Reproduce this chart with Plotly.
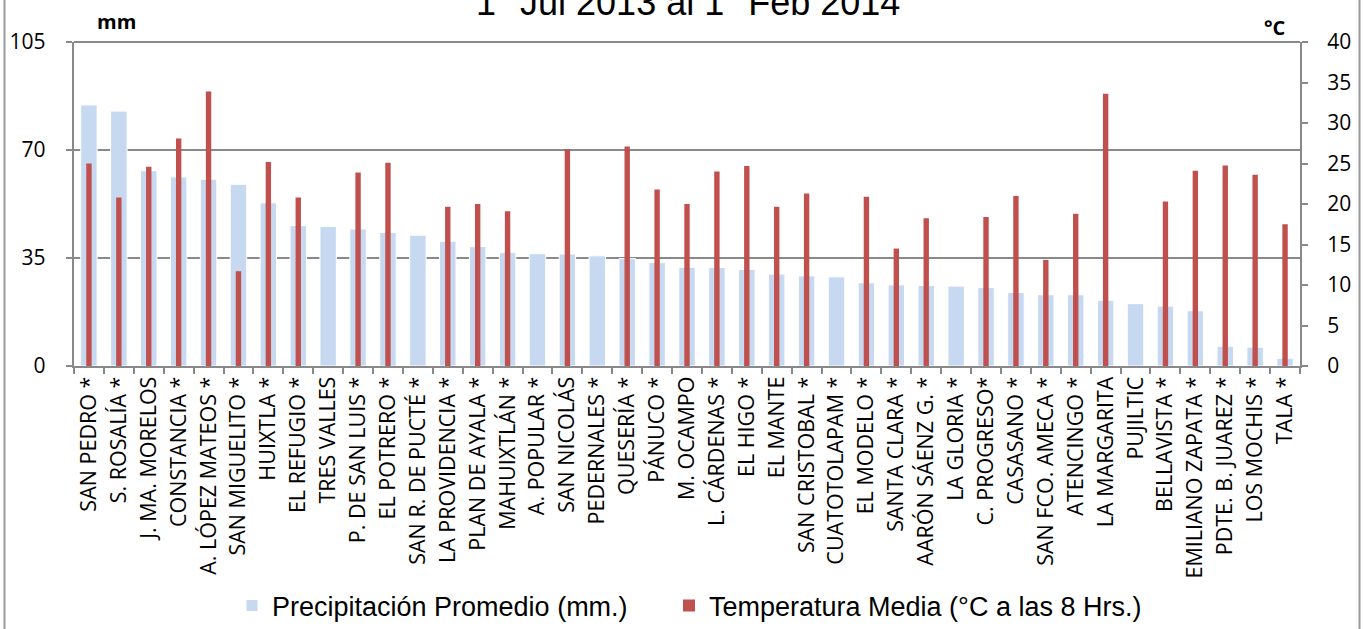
import plotly.graph_objects as go

categories = ["SAN PEDRO *", "S. ROSALÍA *", "J. MA. MORELOS", "CONSTANCIA *", "A. LÓPEZ MATEOS *",
              "SAN MIGUELITO *", "HUIXTLA *", "EL REFUGIO *", "TRES VALLES", "P. DE SAN LUIS *",
              "EL POTRERO *", "SAN R. DE PUCTÉ *", "LA PROVIDENCIA *", "PLAN DE AYALA *", "MAHUIXTLÁN *",
              "A. POPULAR *", "SAN NICOLÁS", "PEDERNALES *", "QUESERÍA *", "PÁNUCO *",
              "M. OCAMPO", "L. CÁRDENAS *", "EL HIGO *", "EL MANTE", "SAN CRISTOBAL *",
              "CUATOTOLAPAM *", "EL MODELO *", "SANTA CLARA *", "AARÓN SÁENZ G. *", "LA GLORIA *",
              "C. PROGRESO*", "CASASANO *", "SAN FCO. AMECA *", "ATENCINGO *", "LA MARGARITA",
              "PUJILTIC", "BELLAVISTA *", "EMILIANO ZAPATA *", "PDTE. B. JUAREZ *", "LOS MOCHIS *",
              "TALA *"]

precipitacion = [84.6, 82.6, 63.3, 61.3, 60.5, 58.9, 52.9, 45.5, 45.2, 44.4,
                 43.3, 42.4, 40.4, 38.7, 36.8, 36.4, 36.3, 35.7, 34.8, 33.5,
                 32.0, 31.9, 31.3, 29.8, 29.2, 28.9, 27.0, 26.3, 26.1, 25.9,
                 25.4, 23.8, 23.1, 23.1, 21.3, 20.2, 19.4, 17.9, 6.4, 6.1,
                 2.5]

temperatura = [25.0, 20.8, 24.6, 28.1, 33.9, 11.7, 25.2, 20.8, None, 23.9,
               25.1, None, 19.65, 20.0, 19.1, None, 26.75, None, 27.1, 21.8,
               20.0, 24.0, 24.7, 19.65, 21.3, None, 20.9, 14.5, 18.25, None,
               18.4, 21.0, 13.1, 18.8, 33.6, None, 20.3, 24.1, 24.75, 23.6,
               17.5]

left_ticks = [0, 35, 70, 105]
right_ticks = [0, 5, 10, 15, 20, 25, 30, 35, 40]

title_text = "1<sup>o</sup> Jul 2013 al 1<sup>o</sup> Feb 2014"
name_precip = "Precipitación Promedio (mm.)"
name_temp = "Temperatura Media (°C a las 8 Hrs.)"

W, H = 1364, 629
L, R, T, B = 74, 64, 42, 263
PW, PH = W - L - R, H - T - B

def px_x(x):
    return (x - L) / PW

def px_y(y):
    return (H - B - y) / PH

GRAY = "#898989"
BLUE = "#C6D9F1"
RED = "#C0504D"
NB = "\u00a0"

fig = go.Figure()
fig.add_trace(go.Bar(
    x=categories, y=precipitacion, name=name_precip,
    marker=dict(color=BLUE, line=dict(color="white", width=1)),
    width=0.55, offset=-0.275, yaxis="y", legend="legend",
))
fig.add_trace(go.Bar(
    x=categories, y=temperatura, name=name_temp,
    marker=dict(color=RED, line=dict(color=RED, width=0)),
    width=0.18, offset=-0.09, yaxis="y2", legend="legend2",
))

tick_font = dict(family="Open Sans", size=21.5, color="black")
legend_font = dict(family="Liberation Sans", size=27, color="black")

fig.update_layout(
    width=W, height=H,
    margin=dict(l=L, r=R, t=T, b=B, pad=0, autoexpand=False),
    paper_bgcolor="white", plot_bgcolor="white",
    barmode="overlay",
    showlegend=True,
    legend=dict(orientation="h", x=px_x(232), xanchor="left", y=px_y(606), yanchor="middle",
                font=legend_font, itemwidth=30, bgcolor="rgba(0,0,0,0)"),
    legend2=dict(orientation="h", x=px_x(669), xanchor="left", y=px_y(606), yanchor="middle",
                 font=legend_font, itemwidth=30, bgcolor="rgba(0,0,0,0)"),
    xaxis=dict(
        type="category", range=[-0.5, len(categories) - 0.5],
        showline=True, linecolor=GRAY, linewidth=2,
        ticks="outside", tickson="boundaries", ticklen=6, tickwidth=2, tickcolor=GRAY,
        tickangle=-90, tickfont=tick_font, showgrid=False,
    ),
    yaxis=dict(
        range=[0, 105], tickvals=left_ticks, ticktext=[str(v) + NB * 3 for v in left_ticks],
        showline=True, linecolor=GRAY, linewidth=2,
        ticks="outside", ticklen=6, tickwidth=2, tickcolor=GRAY,
        showgrid=True, gridcolor=GRAY, gridwidth=2, zeroline=False,
        tickfont=dict(family="Open Sans", size=21, color="black"),
    ),
    yaxis2=dict(
        range=[0, 40], tickvals=right_ticks, overlaying="y", side="right",
        showline=True, linecolor=GRAY, linewidth=2,
        ticks="outside", ticklen=6, tickwidth=2, tickcolor=GRAY,
        showgrid=False, zeroline=False,
        tickfont=dict(family="Open Sans", size=21, color="black"),
        ticklabelstandoff=15,
    ),
    annotations=[
        dict(text=title_text, x=px_x(687.5), y=px_y(25), xref="paper", yref="paper",
             xanchor="center", yanchor="bottom", showarrow=False,
             font=dict(family="Liberation Sans", size=36, color="black")),
        dict(text="<b>mm</b>", x=px_x(116), y=px_y(22), xref="paper", yref="paper",
             xanchor="center", yanchor="middle", showarrow=False,
             font=dict(family="Open Sans", size=20, color="black")),
        dict(text="<b>°C</b>", x=px_x(1275), y=px_y(27), xref="paper", yref="paper",
             xanchor="center", yanchor="middle", showarrow=False,
             font=dict(family="Open Sans", size=20, color="black")),
    ],
    shapes=[
        dict(type="line", xref="paper", yref="paper", x0=0, x1=1, y0=1, y1=1,
             line=dict(color=GRAY, width=2)),
        dict(type="line", xref="paper", yref="paper", x0=px_x(4.5), x1=px_x(4.5), y0=px_y(-5), y1=px_y(640),
             line=dict(color="#9a9a9a", width=2)),
        dict(type="line", xref="paper", yref="paper", x0=px_x(1359.5), x1=px_x(1359.5), y0=px_y(-5), y1=px_y(640),
             line=dict(color="#9a9a9a", width=2)),
    ],
)

fig.write_html("out.html", config={"displayModeBar": False},
               post_script="document.body.style.margin='0';document.body.style.overflow='hidden';")
